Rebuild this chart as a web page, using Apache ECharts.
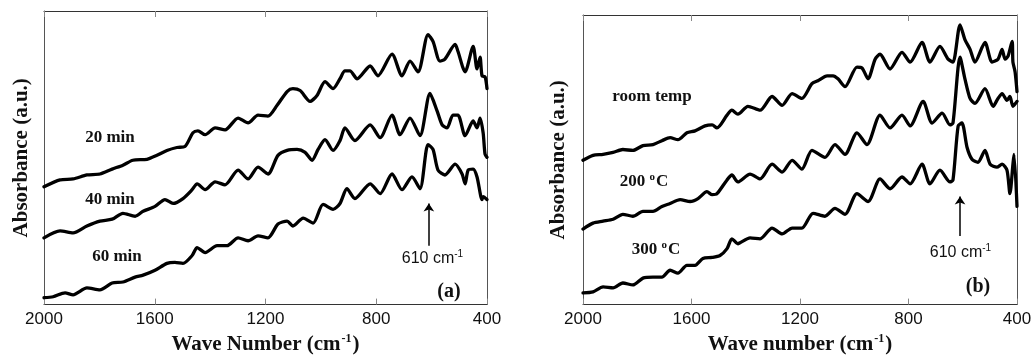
<!DOCTYPE html>
<html>
<head>
<meta charset="utf-8">
<script src="https://cdn.jsdelivr.net/npm/echarts@6/dist/echarts.min.js"></script>
<style>
  html, body { margin: 0; padding: 0; background: #fff; }
  #main { width: 1036px; height: 360px; }
</style>
</head>
<body>
<div id="main"></div>
<script>
// wave number ticks (x axis, reversed)
const waveTicks = [2000, 1600, 1200, 800, 400];

// panel (a): sintering time, [wave number, absorbance a.u.]
const min20 = [[2000,1.20],[1942,1.27],[1895,1.28],[1845,1.32],[1798,1.33],[1754,1.38],[1715,1.42],[1679,1.47],[1628,1.48],[1592,1.52],[1556,1.57],[1520,1.60],[1491,1.61],[1462,1.75],[1444,1.77],[1418,1.73],[1382,1.80],[1346,1.78],[1299,1.90],[1263,1.85],[1227,1.93],[1191,1.92],[1158,2.03],[1122,2.17],[1101,2.20],[1075,2.18],[1039,2.07],[1014,2.13],[985,2.27],[956,2.20],[931,2.30],[913,2.38],[895,2.38],[869,2.30],[822,2.43],[794,2.33],[743,2.55],[707,2.33],[678,2.48],[649,2.37],[613,2.75],[595,2.68],[570,2.48],[552,2.50],[515,2.65],[505,2.58],[479,2.37],[450,2.63],[436,2.40],[425,2.52],[418,2.33],[407,2.32],[400,2.20]];
const min40 = [[2000,0.68],[1942,0.75],[1895,0.73],[1845,0.80],[1798,0.85],[1754,0.87],[1715,0.93],[1671,0.90],[1642,0.95],[1599,1.00],[1563,1.07],[1534,1.03],[1498,1.08],[1465,1.17],[1447,1.23],[1418,1.17],[1382,1.25],[1346,1.22],[1299,1.37],[1263,1.28],[1227,1.40],[1191,1.33],[1155,1.52],[1122,1.57],[1086,1.58],[1057,1.55],[1032,1.47],[1010,1.58],[985,1.68],[956,1.57],[931,1.67],[913,1.80],[877,1.67],[822,1.83],[786,1.70],[743,1.93],[714,1.73],[678,1.90],[642,1.72],[606,2.15],[580,1.97],[562,1.83],[544,1.80],[523,1.93],[505,1.93],[479,1.72],[450,1.87],[436,1.80],[425,1.90],[414,1.75],[407,1.53],[400,1.50]];
const min60 = [[2000,0.07],[1967,0.08],[1924,0.12],[1895,0.10],[1845,0.17],[1798,0.15],[1754,0.22],[1715,0.23],[1671,0.28],[1642,0.30],[1599,0.35],[1556,0.42],[1527,0.43],[1498,0.42],[1465,0.50],[1447,0.58],[1418,0.53],[1375,0.60],[1339,0.60],[1299,0.68],[1263,0.65],[1227,0.70],[1191,0.68],[1155,0.82],[1122,0.85],[1101,0.80],[1064,0.88],[1028,0.83],[992,1.02],[956,0.97],[931,1.03],[906,1.18],[877,1.08],[822,1.23],[786,1.13],[743,1.33],[707,1.17],[671,1.30],[642,1.18],[613,1.63],[595,1.58],[577,1.37],[552,1.32],[515,1.43],[490,1.33],[479,1.23],[468,1.37],[450,1.38],[436,1.30],[418,1.07],[414,1.10],[400,1.07]];

// panel (b): annealing temperature
const roomTemp = [[2000,1.47],[1963,1.52],[1926,1.53],[1889,1.55],[1853,1.58],[1816,1.57],[1779,1.62],[1742,1.63],[1709,1.67],[1679,1.70],[1650,1.68],[1617,1.75],[1587,1.77],[1550,1.82],[1524,1.83],[1506,1.80],[1469,1.93],[1451,1.98],[1429,1.94],[1392,2.02],[1347,1.98],[1303,2.12],[1266,2.03],[1229,2.15],[1193,2.10],[1156,2.25],[1134,2.28],[1100,2.33],[1078,2.33],[1060,2.30],[1034,2.22],[990,2.42],[971,2.41],[949,2.30],[923,2.50],[905,2.55],[868,2.40],[824,2.57],[794,2.47],[750,2.67],[721,2.47],[684,2.63],[654,2.50],[636,2.47],[610,2.85],[592,2.70],[573,2.60],[555,2.47],[518,2.67],[492,2.47],[470,2.50],[455,2.60],[444,2.50],[433,2.53],[418,2.68],[415,2.47],[407,2.37],[400,2.17]];
const temp200 = [[2000,0.77],[1963,0.83],[1926,0.85],[1889,0.87],[1853,0.92],[1816,0.90],[1779,0.95],[1742,0.95],[1709,1.00],[1679,1.03],[1642,1.07],[1605,1.05],[1576,1.08],[1543,1.15],[1524,1.12],[1506,1.13],[1469,1.27],[1451,1.32],[1429,1.25],[1384,1.33],[1347,1.28],[1303,1.43],[1266,1.35],[1229,1.47],[1193,1.38],[1156,1.57],[1108,1.50],[1071,1.63],[1034,1.53],[990,1.75],[953,1.63],[905,1.93],[868,1.80],[824,1.93],[794,1.82],[746,2.07],[713,1.85],[676,1.95],[647,1.83],[636,1.85],[610,2.52],[592,2.30],[573,2.10],[555,2.05],[518,2.20],[488,2.02],[470,2.10],[455,2.15],[437,2.08],[426,2.12],[415,2.02],[400,2.07]];
const temp300 = [[2000,0.12],[1963,0.13],[1926,0.18],[1889,0.17],[1853,0.22],[1816,0.20],[1779,0.27],[1742,0.28],[1709,0.28],[1679,0.35],[1650,0.32],[1617,0.40],[1587,0.40],[1558,0.47],[1524,0.48],[1495,0.50],[1469,0.57],[1451,0.67],[1429,0.62],[1421,0.63],[1384,0.68],[1347,0.67],[1303,0.78],[1266,0.72],[1229,0.78],[1193,0.78],[1152,0.93],[1108,0.90],[1071,0.98],[1034,0.92],[990,1.13],[949,1.05],[905,1.28],[868,1.18],[824,1.30],[794,1.23],[750,1.43],[721,1.23],[684,1.37],[647,1.25],[636,1.27],[617,1.82],[603,1.85],[584,1.60],[566,1.48],[544,1.45],[518,1.57],[499,1.43],[474,1.40],[455,1.43],[437,1.37],[426,1.13],[415,1.43],[411,1.53],[400,1.00]];

// arrow marking the 610 cm-1 band, [x, yStart, yEnd]
const arrowA = [610, 0.60, 1.03];
const arrowB = [610, 0.70, 1.10];

const chartDom = document.getElementById("main");
const myChart = echarts.init(chartDom, null, { renderer: "canvas" });

const SERIF = "'Liberation Serif', 'Times New Roman', serif";
const SANS = "'Liberation Sans', Arial, sans-serif";

const supRich = {
  n: { fontFamily: SERIF, fontWeight: "bold", fontSize: 21, color: "#111", lineHeight: 24 },
  s: { fontFamily: SERIF, fontWeight: "bold", fontSize: 12, color: "#111", verticalAlign: "top", lineHeight: 24, padding: [0, 1, 10, 1] },
};

const bottomAxis = (grid, title) => ({
  type: "value",
  gridIndex: grid,
  position: "bottom",
  inverse: true,
  min: waveTicks[4],
  max: waveTicks[0],
  interval: 400,
  name: "{n|" + title + " (cm}{s|-1}{n|)}",
  nameLocation: "middle",
  nameGap: 26,
  nameTextStyle: { rich: supRich },
  axisLine: { show: true, onZero: false, lineStyle: { color: "#333", width: 1 } },
  axisTick: { show: true, inside: true, length: 6, lineStyle: { color: "#888", width: 1 } },
  axisLabel: { fontFamily: SANS, fontSize: 17, color: "#111", margin: 6, formatter: (v) => String(v) },
  splitLine: { show: false },
});

const topAxis = (grid) => ({
  type: "value",
  gridIndex: grid,
  position: "top",
  inverse: true,
  min: waveTicks[4],
  max: waveTicks[0],
  interval: 400,
  axisLine: { show: true, onZero: false, lineStyle: { color: "#333", width: 1 } },
  axisTick: { show: true, inside: true, length: 6, lineStyle: { color: "#888", width: 1 } },
  axisLabel: { show: false },
  splitLine: { show: false },
});

const leftAxis = (grid, max, gap) => ({
  type: "value",
  gridIndex: grid,
  min: 0,
  max: max,
  name: "Absorbance (a.u.)",
  nameLocation: "middle",
  nameRotate: 90,
  nameGap: gap,
  nameTextStyle: { fontFamily: SERIF, fontWeight: "bold", fontSize: 21, color: "#111" },
  axisLine: { show: true, onZero: false, lineStyle: { color: "#555", width: 1 } },
  axisTick: { show: false },
  axisLabel: { show: false },
  splitLine: { show: false },
});

const rightAxis = (grid, max) => ({
  type: "value",
  gridIndex: grid,
  position: "right",
  min: 0,
  max: max,
  axisLine: { show: true, onZero: false, lineStyle: { color: "#555", width: 1 } },
  axisTick: { show: false },
  axisLabel: { show: false },
  splitLine: { show: false },
});

const curve = (name, data, xi, yi, arrow) => {
  const s = {
    name: name,
    type: "line",
    xAxisIndex: xi,
    yAxisIndex: yi,
    data: data,
    showSymbol: false,
    symbol: "none",
    smooth: 0.25,
    lineStyle: { color: "#000", width: 3.3, join: "round", cap: "round" },
    silent: true,
    z: 3,
  };
  if (arrow) {
    s.markLine = {
      silent: true,
      symbol: ["none", "arrow"],
      symbolSize: 8,
      lineStyle: { color: "#000", width: 1.5, type: "solid" },
      label: { show: false },
      data: [[{ coord: [arrow[0], arrow[1]] }, { coord: [arrow[0], arrow[2]] }]],
    };
  }
  return s;
};

const label = (text, x, y, size) => ({
  type: "text",
  x: x,
  y: y,
  style: {
    text: text,
    fontFamily: SERIF,
    fontWeight: "bold",
    fontSize: size || 17,
    fill: "#111",
    align: "center",
    verticalAlign: "middle",
  },
});

// text with a raised part in the middle, e.g. "610 cm" + "-1" or "200 " + "o" + "C"
const supLabel = (main, sup, tail, x, y, font, weight, size) => ({
  type: "text",
  x: x,
  y: y,
  style: {
    text: "{n|" + main + "}{s|" + sup + "}" + (tail ? "{n|" + tail + "}" : ""),
    align: "center",
    verticalAlign: "middle",
    rich: {
      n: { fontFamily: font, fontWeight: weight, fontSize: size, fill: "#111", lineHeight: size + 4 },
      s: { fontFamily: font, fontWeight: weight, fontSize: Math.round(size * 0.62), fill: "#111", verticalAlign: "top", lineHeight: size + 4, padding: [0, 1, 8, 0] },
    },
  },
});

const option = {
  backgroundColor: "#fff",
  animation: false,
  grid: [
    { left: 44, top: 11, width: 443, height: 299 },
    { left: 583, top: 15, width: 434, height: 295 },
  ],
  xAxis: [
    bottomAxis(0, "Wave Number"),
    topAxis(0),
    bottomAxis(1, "Wave number"),
    topAxis(1),
  ],
  yAxis: [
    leftAxis(0, 2.99, 12),
    rightAxis(0, 2.99),
    leftAxis(1, 2.95, 14),
    rightAxis(1, 2.95),
  ],
  series: [
    curve("20 min", min20, 0, 0),
    curve("40 min", min40, 0, 0),
    curve("60 min", min60, 0, 0, arrowA),
    curve("room temp", roomTemp, 2, 2),
    curve("200 °C", temp200, 2, 2),
    curve("300 °C", temp300, 2, 2, arrowB),
  ],
  graphic: [
    label("20 min", 110, 138),
    label("40 min", 110, 200),
    label("60 min", 117, 257),
    label("(a)", 449, 292, 20),
    supLabel("610 cm", "-1", "", 433, 259, SANS, "normal", 16),
    label("room temp", 652, 97),
    supLabel("200 ", "o", "C", 644, 182, SERIF, "bold", 17),
    supLabel("300 ", "o", "C", 656, 250, SERIF, "bold", 17),
    label("(b)", 978, 287, 20),
    supLabel("610 cm", "-1", "", 961, 253, SANS, "normal", 16),
  ],
};

option && myChart.setOption(option);
</script>
</body>
</html>
